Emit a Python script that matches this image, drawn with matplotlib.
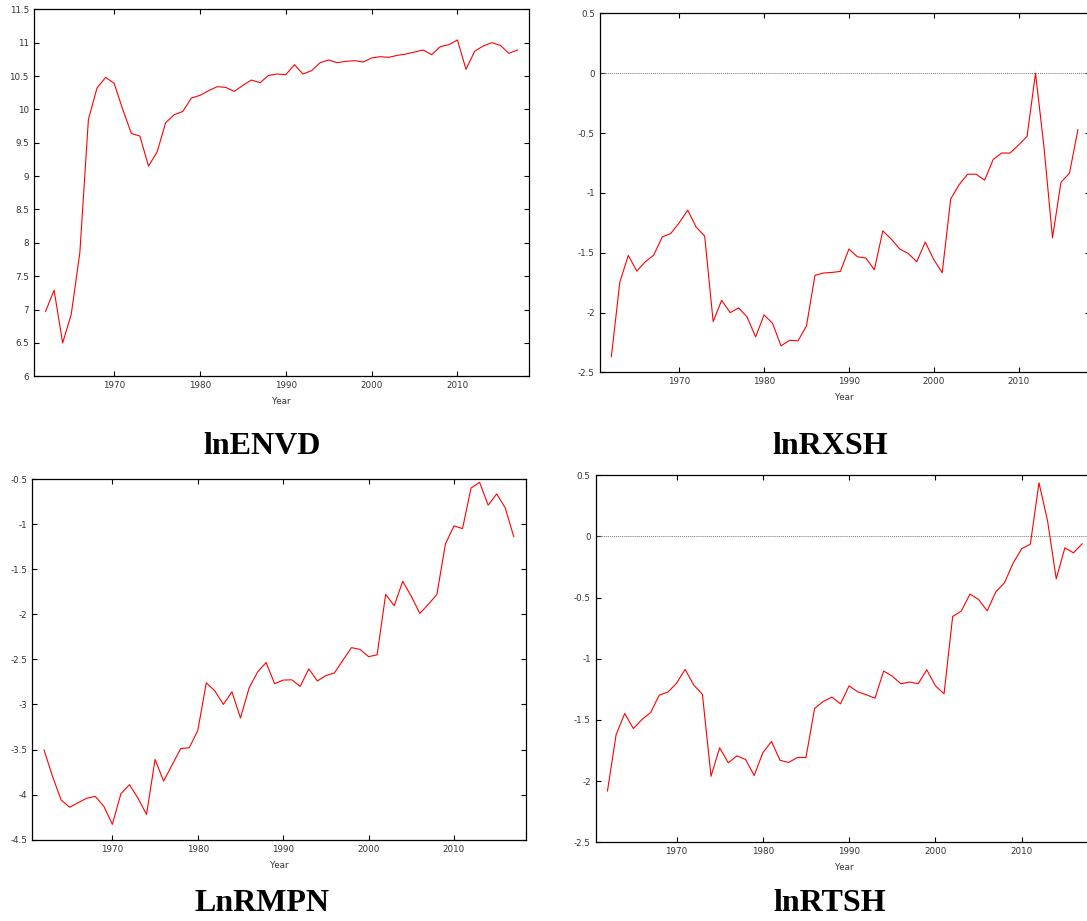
import numpy as np
import matplotlib
matplotlib.use('Agg')
import matplotlib.pyplot as plt

plt.rcParams['axes.unicode_minus'] = False
plt.rcParams['font.family'] = 'DejaVu Sans'

years = np.arange(1962, 2018)

lnENVD = [6.97, 7.29, 6.50, 6.93, 7.85, 9.85, 10.32, 10.48, 10.39, 10.00,
          9.64, 9.60, 9.15, 9.36, 9.80, 9.92, 9.97, 10.17, 10.21, 10.28,
          10.34, 10.33, 10.27, 10.36, 10.44, 10.40, 10.51, 10.53, 10.52, 10.67,
          10.53, 10.58, 10.70, 10.74, 10.70, 10.72, 10.73, 10.71, 10.77, 10.79,
          10.78, 10.81, 10.83, 10.86, 10.89, 10.82, 10.94, 10.97, 11.04, 10.60,
          10.87, 10.95, 11.00, 10.96, 10.84, 10.89]

lnRXSH = [-2.367, -1.744, -1.522, -1.653, -1.575, -1.519, -1.367, -1.339, -1.25, -1.144,
          -1.286, -1.361, -2.075, -1.897, -2.00, -1.961, -2.036, -2.203, -2.019, -2.089,
          -2.278, -2.231, -2.236, -2.111, -1.689, -1.669, -1.664, -1.656, -1.469, -1.533,
          -1.544, -1.642, -1.317, -1.386, -1.469, -1.506, -1.575, -1.411, -1.556, -1.667,
          -1.05, -0.931, -0.844, -0.844, -0.894, -0.722, -0.667, -0.667, -0.60, -0.528,
          0.0, -0.62, -1.375, -0.911, -0.836, -0.472]

LnRMPN = [-3.505, -3.80, -4.06, -4.14, -4.09, -4.04, -4.02, -4.13, -4.33, -3.99,
          -3.89, -4.04, -4.22, -3.61, -3.85, -3.67, -3.49, -3.48, -3.29, -2.76,
          -2.85, -3.00, -2.86, -3.15, -2.82, -2.64, -2.535, -2.77, -2.73, -2.727,
          -2.80, -2.605, -2.74, -2.68, -2.65, -2.51, -2.37, -2.39, -2.47, -2.45,
          -1.78, -1.905, -1.635, -1.80, -1.99, -1.89, -1.78, -1.22, -1.02, -1.05,
          -0.60, -0.537, -0.79, -0.666, -0.82, -1.14]

lnRTSH = [-2.08, -1.62, -1.447, -1.57, -1.496, -1.44, -1.297, -1.272, -1.20, -1.087,
          -1.215, -1.29, -1.96, -1.727, -1.85, -1.793, -1.823, -1.954, -1.768, -1.676,
          -1.83, -1.847, -1.807, -1.807, -1.406, -1.349, -1.313, -1.368, -1.221, -1.27,
          -1.294, -1.322, -1.10, -1.142, -1.204, -1.19, -1.204, -1.09, -1.221, -1.286,
          -0.654, -0.61, -0.471, -0.515, -0.608, -0.452, -0.379, -0.218, -0.10, -0.063,
          0.439, 0.125, -0.346, -0.093, -0.134, -0.06]

xticks = [1970, 1980, 1990, 2000, 2010]

W, H = 1087, 921
fig = plt.figure(figsize=(W / 100, H / 100), dpi=100)

# name, values, y limits, axes box in pixels (left, right, top, bottom), title centre
panels = [
    ('lnENVD', lnENVD, (6, 11.5), (33.7, 529.3, 9.3, 376.3), (262, 446)),
    ('lnRXSH', lnRXSH, (-2.5, 0.5), (599.7, 1089.6, 13.3, 372.5), (830, 446)),
    ('LnRMPN', LnRMPN, (-4.5, -0.5), (32.3, 525.5, 479.0, 839.7), (262, 903)),
    ('lnRTSH', lnRTSH, (-2.5, 0.5), (595.6, 1094.0, 475.3, 842.3), (830, 903)),
]

for name, vals, ylim, box, tpos in panels:
    l, r, t, b = box
    ax = fig.add_axes([l / W, 1 - b / H, (r - l) / W, (b - t) / H])
    ax.plot(years, vals, color='#ff0000', lw=0.8)
    if ylim[0] < 0 < ylim[1]:
        ax.axhline(0, color='#777777', lw=0.7, ls=(0, (1, 1)))
    pad = (years[-1] - years[0]) * 0.025
    ax.set_xlim(years[0] - pad, years[-1] + pad)
    ax.set_ylim(*ylim)
    yt = np.arange(ylim[0], ylim[1] + 0.01, 0.5)
    ax.set_yticks(yt)
    ax.set_yticklabels(['%g' % v for v in yt])
    ax.set_xticks(xticks)
    ax.tick_params(direction='in', top=True, right=True, length=3.3, width=0.8,
                   labelsize=6.3, labelcolor='#333333', pad=3.5)
    for s in ax.spines.values():
        s.set_linewidth(0.9)
    ax.set_xlabel('Year', fontsize=6.3, color='#333333', labelpad=5)
    fig.text(tpos[0] / W, 1 - tpos[1] / H, name, ha='center', va='center',
             fontsize=23, fontweight='bold', family='Liberation Serif')

fig.savefig('out.png', dpi=100)
